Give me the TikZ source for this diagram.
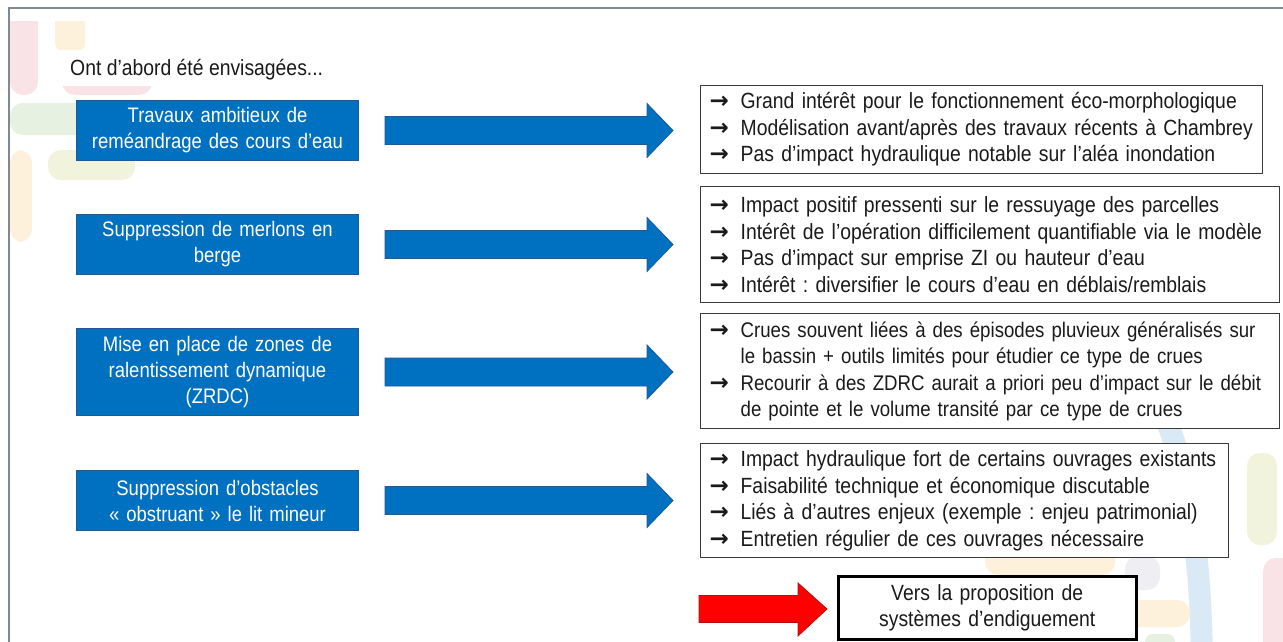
\documentclass[tikz,border=0pt]{standalone}
\usepackage{fontspec}
\setmainfont{Liberation Sans}[FakeStretch=0.88]
\newfontfamily\arrowfont{DejaVu Sans}
\usetikzlibrary{calc}
\definecolor{boxblue}{HTML}{0070C0}
\definecolor{boxblueedge}{HTML}{1F5A96}
\definecolor{frameg}{HTML}{7F8893}
\definecolor{txt}{HTML}{1A1A1A}
\definecolor{rboxedge}{HTML}{3A3A3A}
\definecolor{arrred}{HTML}{FF0000}
\definecolor{arrrededge}{HTML}{B01010}
\definecolor{decpink}{HTML}{F9E3E6}
\definecolor{decpeach}{HTML}{FDF1DC}
\definecolor{decgreen}{HTML}{E6F1E2}
\definecolor{decyg}{HTML}{F1F3DC}
\definecolor{decblue}{HTML}{D9EAF6}
\definecolor{decgray}{HTML}{EFEFF3}
\newcommand\itm{\makebox[31pt][l]{\arrowfont\bfseries\fontsize{23}{19}\selectfont →}}
\newcommand\ind{\hspace*{31pt}}
\frenchspacing
\tikzset{
  rbox/.style={draw=rboxedge, line width=1.3pt, fill=white, text=txt, anchor=north west,
    inner xsep=9pt, inner ysep=0pt, align=left, font=\fontsize{22}{26.5}\selectfont\frenchspacing},
  bbox/.style={draw=boxblueedge, line width=1pt, fill=boxblue, text=white, anchor=north west,
    inner sep=0pt, align=center, text width=282pt, minimum width=282pt,
    font=\fontsize{21}{26}\selectfont},
  fbox/.style={draw=black, line width=2.5pt, fill=white, text=txt, anchor=north west,
    inner sep=0pt, align=center, text width=298pt, minimum width=298pt, minimum height=63pt,
    font=\fontsize{22}{26}\selectfont},
  barrow/.style={fill=boxblue, draw=boxblueedge, line width=0.8pt, line join=miter},
  rarrow/.style={fill=arrred, draw=arrrededge, line width=0.8pt, line join=miter},
  deco/.style={rounded corners=13pt}
}
\newcommand\blockarrow[2]{%
  \path[barrow] let \p1=(#1.east), \p2=(#2.west) in
    ({\x1+26pt},{\y1-14pt}) -- ({\x2-53pt},{\y1-14pt}) -- ({\x2-53pt},{\y1-27pt})
    -- ({\x2-27pt},{\y1}) -- ({\x2-53pt},{\y1+27pt}) -- ({\x2-53pt},{\y1+14pt})
    -- ({\x1+26pt},{\y1+14pt}) -- cycle;}
\begin{document}
\begin{tikzpicture}[x=1pt,y=-1pt]
\useasboundingbox (0,0) rectangle (1283,642);
\fill[white] (0,0) rectangle (1283,642);
% background decorations
\begin{scope}
\clip (0,22) rectangle (1283,642);
\fill[decpink, deco] (10,0) rectangle (38,95);
\fill[decpeach, rounded corners=6pt] (55,0) rectangle (85,50);
\fill[decpink, deco] (62,55) rectangle (152,95);
\fill[decgreen, deco] (10,103) rectangle (125,135);
\fill[decpeach, deco] (10,150) rectangle (32,242);
\fill[decyg, deco] (48,150) rectangle (135,180);
\draw[decblue, line width=22pt] (1150,380) .. controls (1182,450) and (1200,520) .. (1202,660);
\fill[decyg, deco] (1247,453) rectangle (1277,545);
\fill[decpink, deco] (1263,558) rectangle (1300,670);
\fill[decgray, deco] (1125,556) rectangle (1160,590);
\fill[decpeach, deco] (985,548) rectangle (1115,575);
\fill[decpeach, deco] (1120,600) rectangle (1190,627);
\fill[decgreen, rounded corners=8pt] (1145,634) rectangle (1175,660);
\end{scope}
\fill[white] (62,52) rectangle (335,86);
% frame
\draw[frameg, line width=1.5pt] (1283,8) -- (9,8) -- (9,642);
% header
\node[anchor=west, inner sep=0pt, text=txt, font=\fontsize{22}{24}\selectfont] (head) at (70,70) {Ont d’abord été envisagées...};
% blue boxes
\node[bbox, minimum height=60pt] (b1) at (76,100) {Travaux ambitieux de\\reméandrage des cours d’eau};
\node[bbox, minimum height=60pt] (b2) at (76,214) {Suppression de merlons en\\berge};
\node[bbox, minimum height=87pt] (b3) at (76,328) {Mise en place de zones de\\ralentissement dynamique\\(ZRDC)};
\node[bbox, minimum height=60pt] (b4) at (76,470) {Suppression d’obstacles\\« obstruant » le lit mineur};
% right boxes
\node[rbox, text width=544pt, minimum height=88pt] (r1) at (700,85) {%
\itm Grand intérêt pour le fonctionnement éco-morphologique\\
\itm Modélisation avant/après des travaux récents à Chambrey\\
\itm Pas d’impact hydraulique notable sur l’aléa inondation};
\node[rbox, text width=561pt, minimum height=116pt] (r2) at (700,186) {%
\itm Impact positif pressenti sur le ressuyage des parcelles\\
\itm Intérêt de l’opération difficilement quantifiable via le modèle\\
\itm Pas d’impact sur emprise ZI ou hauteur d’eau\\
\itm Intérêt : diversifier le cours d’eau en déblais/remblais};
\node[rbox, text width=561pt, minimum height=115pt, font=\fontsize{21.2}{26.5}\selectfont\frenchspacing] (r3) at (700,313) {%
\mbox{\itm Crues souvent liées à des épisodes pluvieux généralisés sur}\\
\mbox{\ind le bassin + outils limités pour étudier ce type de crues}\\
\mbox{\itm Recourir à des ZDRC aurait a priori peu d’impact sur le débit}\\
\mbox{\ind de pointe et le volume transité par ce type de crues}};
\node[rbox, text width=510pt, minimum height=114pt] (r4) at (700,443) {%
\itm Impact hydraulique fort de certains ouvrages existants\\
\itm Faisabilité technique et économique discutable\\
\itm Liés à d’autres enjeux (exemple : enjeu patrimonial)\\
\itm Entretien régulier de ces ouvrages nécessaire};
% blue block arrows
\blockarrow{b1}{r1}
\blockarrow{b2}{r2}
\blockarrow{b3}{r3}
\blockarrow{b4}{r4}
% final box and red arrow
\node[fbox] (fb) at (837,575) {Vers la proposition de\\systèmes d’endiguement};
\coordinate (redstart) at (699,609);
\path[rarrow] let \p1=(redstart), \p2=(fb.west) in
  (\x1,{\y1-13.5pt}) -- ({\x2-39pt},{\y1-13.5pt}) -- ({\x2-39pt},{\y1-27pt})
  -- ({\x2-10pt},{\y1}) -- ({\x2-39pt},{\y1+26pt}) -- ({\x2-39pt},{\y1+13.5pt})
  -- (\x1,{\y1+13.5pt}) -- cycle;
\end{tikzpicture}
\end{document}
